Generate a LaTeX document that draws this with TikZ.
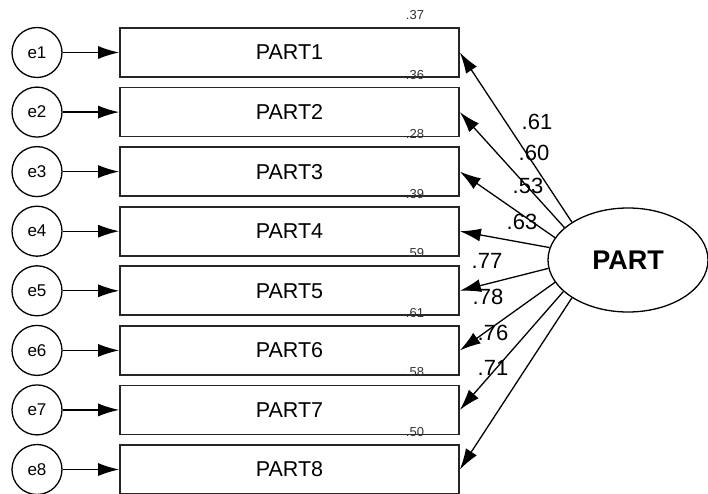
\documentclass[tikz,border=0pt]{standalone}
\usepackage{fontspec}
\setmainfont{Liberation Sans}
\usetikzlibrary{arrows.meta,shapes.geometric}
\tikzset{
  errv/.style={circle,draw=black,line width=1.3pt,minimum size=50pt,inner sep=0pt,font=\fontsize{17}{17}\selectfont},
  obsv/.style={rectangle,draw=black!85,line width=1.7pt,minimum width=339pt,minimum height=49pt,inner sep=0pt,font=\fontsize{21.5}{21.5}\selectfont},
  latv/.style={ellipse,draw=black,line width=1.3pt,minimum width=160pt,minimum height=104pt,inner sep=0pt,font=\bfseries\fontsize{27}{27}\selectfont},
  regedge/.style={line width=1.3pt,black,-{Latex[length=21pt,width=13pt]}},
  varlab/.style={font=\fontsize{13}{13}\selectfont,text=black!80},
  loadlab/.style={font=\fontsize{22}{22}\selectfont}
}
\begin{document}
\begin{tikzpicture}[x=1pt,y=-1pt]
  \useasboundingbox (0,0) rectangle (708,494);
  % latent factor
  \node[latv] (P) at (628,260) {PART};

  % indicators
  \node[obsv] (p1) at (289.5,52.5) {PART1};
  \node[obsv] (p2) at (289.5,112.1) {PART2};
  \node[obsv] (p3) at (289.5,171.6) {PART3};
  \node[obsv] (p4) at (289.5,231.2) {PART4};
  \node[obsv] (p5) at (289.5,290.8) {PART5};
  \node[obsv] (p6) at (289.5,350.4) {PART6};
  \node[obsv] (p7) at (289.5,409.9) {PART7};
  \node[obsv] (p8) at (289.5,469.5) {PART8};

  % errors
  \node[errv] (e1) at (37,52.5) {e1};
  \node[errv] (e2) at (37,112.1) {e2};
  \node[errv] (e3) at (37,171.6) {e3};
  \node[errv] (e4) at (37,231.2) {e4};
  \node[errv] (e5) at (37,290.8) {e5};
  \node[errv] (e6) at (37,350.4) {e6};
  \node[errv] (e7) at (37,409.9) {e7};
  \node[errv] (e8) at (37,469.5) {e8};
  \draw[regedge] (e1)--(p1);
  \draw[regedge] (e2)--(p2);
  \draw[regedge] (e3)--(p3);
  \draw[regedge] (e4)--(p4);
  \draw[regedge] (e5)--(p5);
  \draw[regedge] (e6)--(p6);
  \draw[regedge] (e7)--(p7);
  \draw[regedge] (e8)--(p8);

  % loadings
  \draw[regedge] (P.146)--(p1.east);
  \draw[regedge] (P.153)--(p2.east);
  \draw[regedge] (P.163)--(p3.east);
  \draw[regedge] (P.171)--(p4.east);
  \draw[regedge] (P.186)--(p5.east);
  \draw[regedge] (P.197)--(p6.east);
  \draw[regedge] (P.206)--(p7.east);
  \draw[regedge] (P.214)--(p8.east);
  \node[loadlab] (l1) at (537,122) {.61};
  \node[loadlab] (l2) at (534,153) {.60};
  \node[loadlab] (l3) at (528,186) {.53};
  \node[loadlab] (l4) at (522,222) {.63};
  \node[loadlab] (l5) at (487,261) {.77};
  \node[loadlab] (l6) at (488,297) {.78};
  \node[loadlab] (l7) at (493,333) {.76};
  \node[loadlab] (l8) at (493,368) {.71};

  % squared multiple correlations
  \node[varlab] (r1) at (415,15) {.37};
  \node[varlab] (r2) at (415,74.6) {.36};
  \node[varlab] (r3) at (415,134.1) {.28};
  \node[varlab] (r4) at (415,193.7) {.39};
  \node[varlab] (r5) at (415,253.3) {.59};
  \node[varlab] (r6) at (415,312.9) {.61};
  \node[varlab] (r7) at (415,372.4) {.58};
  \node[varlab] (r8) at (415,432) {.50};
\end{tikzpicture}
\end{document}
